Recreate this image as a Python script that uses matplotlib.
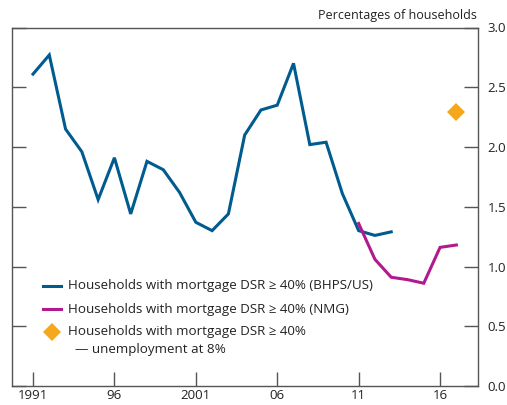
import matplotlib
matplotlib.use("Agg")
import matplotlib.pyplot as plt
from matplotlib.lines import Line2D

plt.rcParams['font.family'] = ['Open Sans', 'DejaVu Sans']

# data
years_bhps = list(range(1991, 2014))
bhps = [2.61, 2.77, 2.15, 1.96, 1.56, 1.91, 1.44, 1.88, 1.81, 1.62, 1.37, 1.30,
        1.44, 2.10, 2.31, 2.35, 2.70, 2.02, 2.04, 1.61, 1.30, 1.26, 1.29]
years_nmg = list(range(2011, 2018))
nmg = [1.36, 1.06, 0.91, 0.89, 0.86, 1.16, 1.18]
stress_year = [2017]
stress_val = [2.29]

xticks = [1991, 1996, 2001, 2006, 2011, 2016]
xlabels = ['1991', '96', '2001', '06', '11', '16']
yticks = [0.0, 0.5, 1.0, 1.5, 2.0, 2.5, 3.0]

legend_labels = ['Households with mortgage DSR \u2265 40% (BHPS/US)',
                 'Households with mortgage DSR \u2265 40% (NMG)',
                 'Households with mortgage DSR \u2265 40%']
legend_extra = '\u2014 unemployment at 8%'

blue = '#005b8f'
pink = '#b3198f'
orange = '#f5a81c'
grey = '#555555'
txt = '#222222'

W, H = 507, 405
fig = plt.figure(figsize=(W / 100, H / 100), dpi=100)
ax = fig.add_axes([12/W, 19/H, 466/W, 358.5/H])

ax.plot(years_bhps, bhps, color=blue, lw=2.2, solid_joinstyle='miter')
ax.plot(years_nmg, nmg, color=pink, lw=2.2, solid_joinstyle='miter')
ax.plot(stress_year, stress_val, 'D', color=orange, ms=9, mew=0)

ax.set_xlim(1989.71, 2018.33)
ax.set_ylim(0, 3.0)
ax.set_xticks(xticks)
ax.set_xticklabels(xlabels)
ax.set_yticks(yticks)
ax.yaxis.tick_right()
ax.tick_params(axis='y', which='both', left=True, right=True, labelleft=False,
               labelright=True, direction='in', length=10, width=1, color=grey,
               labelsize=9.5, labelcolor=txt, pad=7)
ax.tick_params(axis='x', direction='in', length=10, width=1, color=grey,
               labelsize=9.5, labelcolor=txt, pad=2.5)
for s in ax.spines.values():
    s.set_color(grey)
    s.set_linewidth(1)

fig.text(477/W, 1 - 16/H, 'Percentages of households', ha='right', va='center',
         fontsize=9, color=txt)

# hand-placed key (pixel positions)
rows_y = [286, 309, 332]
for y, lab in zip(rows_y, legend_labels):
    fig.text(68/W, 1 - y/H, lab, ha='left', va='center', fontsize=9.6, color=txt)
fig.add_artist(Line2D([43/W, 61/W], [1 - 286/H] * 2, color=blue, lw=2.2))
fig.add_artist(Line2D([43/W, 61/W], [1 - 309/H] * 2, color=pink, lw=2.2))
fig.add_artist(Line2D([52/W], [1 - 332/H], marker='D', color=orange, ms=9, mew=0, ls='none'))
fig.text(75/W, 1 - 350/H, legend_extra, ha='left', va='center', fontsize=9.6, color=txt)

fig.savefig('out.png', dpi=100)
